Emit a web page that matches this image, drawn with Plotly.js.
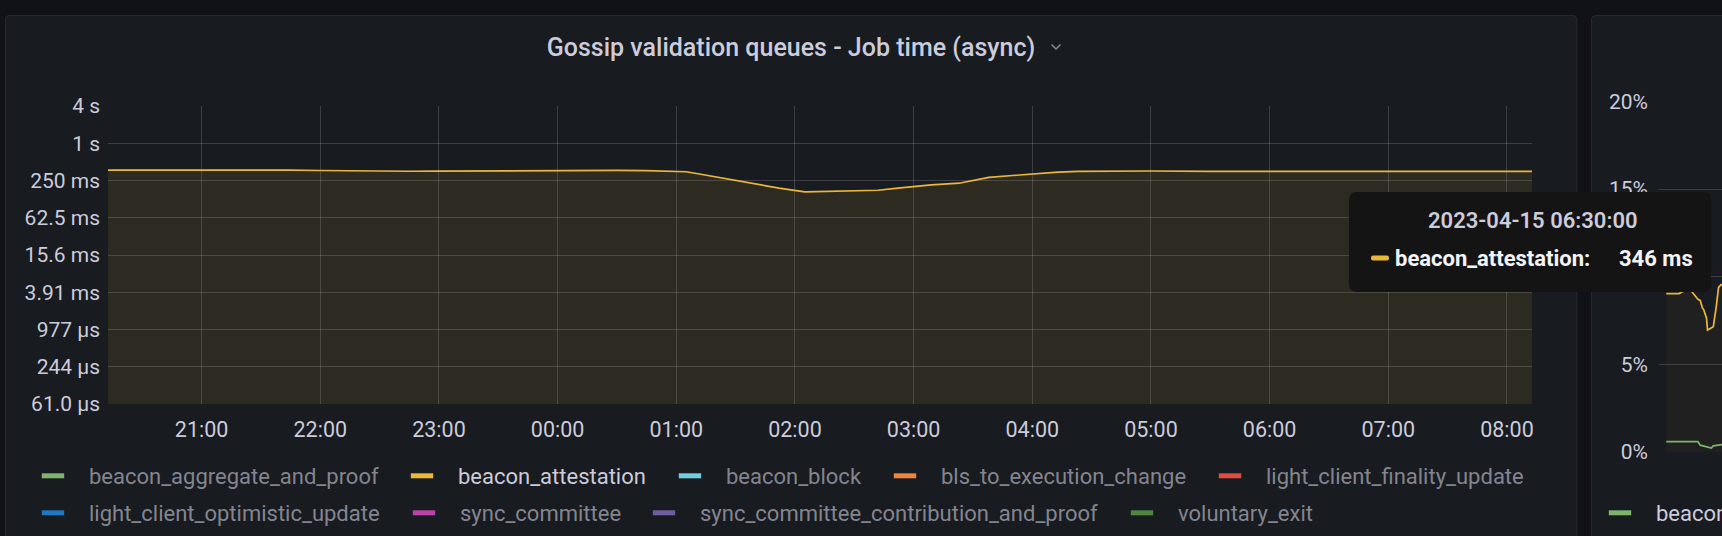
<!DOCTYPE html>
<html><head><meta charset="utf-8">
<script src="https://cdn.plot.ly/plotly-3.0.1.min.js"></script>
<style>html,body{margin:0;padding:0;background:#111217;overflow:hidden}#chart{width:1722px;height:536px}</style>
</head><body><div id="chart"></div>
<script>
// ---------------- data ----------------
const seriesNames = ['beacon_aggregate_and_proof','beacon_attestation','beacon_block','bls_to_execution_change','light_client_finality_update','light_client_optimistic_update','sync_committee','sync_committee_contribution_and_proof','voluntary_exit'];
const seriesColors = ['#7EB26D','#EAB839','#6ED0E0','#EF843C','#E24D42','#1F78C1','#BA43A9','#705DA0','#508642'];
const shownSeries = 'beacon_attestation';

const attestationTimes = ['2023-04-14 20:12:40','2023-04-14 20:30','2023-04-14 20:45','2023-04-14 21:00','2023-04-14 21:15','2023-04-14 21:30','2023-04-14 21:45','2023-04-14 22:00','2023-04-14 22:15','2023-04-14 22:30','2023-04-14 22:45','2023-04-14 23:00','2023-04-14 23:15','2023-04-14 23:30','2023-04-14 23:45','2023-04-15 00:00','2023-04-15 00:15','2023-04-15 00:30','2023-04-15 00:45','2023-04-15 01:00','2023-04-15 01:05','2023-04-15 01:11','2023-04-15 01:32','2023-04-15 01:52','2023-04-15 02:05','2023-04-15 02:19','2023-04-15 02:31','2023-04-15 02:42','2023-04-15 02:52','2023-04-15 03:00','2023-04-15 03:09','2023-04-15 03:23','2023-04-15 03:38','2023-04-15 03:50','2023-04-15 04:00','2023-04-15 04:13','2023-04-15 04:23','2023-04-15 04:45','2023-04-15 05:00','2023-04-15 05:30','2023-04-15 06:00','2023-04-15 06:30','2023-04-15 07:00','2023-04-15 07:30','2023-04-15 08:00','2023-04-15 08:12:40'];
const attestationSeconds = [0.368,0.370,0.369,0.370,0.371,0.369,0.368,0.363,0.357,0.352,0.353,0.355,0.357,0.360,0.364,0.366,0.366,0.364,0.360,0.352,0.346,0.321,0.244,0.188,0.164,0.168,0.174,0.174,0.188,0.202,0.213,0.226,0.280,0.301,0.321,0.341,0.350,0.354,0.356,0.352,0.350,0.346,0.349,0.351,0.350,0.351];

const timeRange = ['2023-04-14 20:12:40','2023-04-15 08:12:40'];
const firstHourTick = '2023-04-14 21:00';
const yTickValues = [Math.pow(4,-7),Math.pow(4,-6),Math.pow(4,-5),Math.pow(4,-4),Math.pow(4,-3),Math.pow(4,-2),Math.pow(4,-1),1,4];
const yTickLabels = ['61.0 µs','244 µs','977 µs','3.91 ms','15.6 ms','62.5 ms','250 ms','1 s','4 s'];
const chartTitle = 'Gossip validation queues - Job time (async)';
const tooltipTime = '2023-04-15 06:30:00';
const tooltipValue = '346 ms';

// neighbouring panel (partly visible on the right)
const p2Range = ['2023-04-14 20:12:40','2023-04-14 20:44:29'];
const p2AttTimes = ['2023-04-14 20:16:20','2023-04-14 20:22:50','2023-04-14 20:24:35','2023-04-14 20:28:55','2023-04-14 20:30:35','2023-04-14 20:32:20','2023-04-14 20:33:30','2023-04-14 20:34:35','2023-04-14 20:35:15','2023-04-14 20:36:40','2023-04-14 20:37:10','2023-04-14 20:39:15','2023-04-14 20:40:05','2023-04-14 20:41:30','2023-04-14 20:42:45','2023-04-14 20:44:00','2023-04-14 20:46:00'];
const p2AttPercent = [9.04,9.04,9.16,9.2,8.96,8.71,8.65,8.22,8.12,7.64,6.96,7.09,7.15,8.22,9.39,9.55,9.55];
const p2AggTimes = ['2023-04-14 20:16:20','2023-04-14 20:32:20','2023-04-14 20:33:30','2023-04-14 20:39:10','2023-04-14 20:40:00','2023-04-14 20:43:30','2023-04-14 20:46:00'];
const p2AggPercent = [0.59,0.59,0.39,0.23,0.35,0.43,0.45];
const p2TickValues = [0,5,10,15,20];
const p2TickLabels = ['0%','5%','10%','15%','20%'];
const p2LegendName = 'beacon_aggregate_and_proof';

// ---------------- layout helpers ----------------
const W = 1722, H = 536;
const X = px => px / W;
const Y = py => 1 - py / H;
const P = (x, y) => X(x).toFixed(5) + ',' + Y(y).toFixed(5);
function rr(x0, y0, x1, y1, r) {
  return 'M' + P(x0 + r, y0) + ' L' + P(x1 - r, y0) + ' Q' + P(x1, y0) + ' ' + P(x1, y0 + r) +
    ' L' + P(x1, y1 - r) + ' Q' + P(x1, y1) + ' ' + P(x1 - r, y1) +
    ' L' + P(x0 + r, y1) + ' Q' + P(x0, y1) + ' ' + P(x0, y1 - r) +
    ' L' + P(x0, y0 + r) + ' Q' + P(x0, y0) + ' ' + P(x0 + r, y0) + ' Z';
}

const TXT = '#ccccdc';
const TXT2 = 'rgba(204,204,220,0.62)';
const GRID = 'rgba(204,204,220,0.2)';
const FONT = 'Roboto';

const traces = [];
seriesNames.forEach((name, i) => {
  const shown = name === shownSeries;
  traces.push({
    type: 'scatter', mode: 'lines', name: name,
    x: shown ? attestationTimes : [], y: shown ? attestationSeconds : [],
    line: {color: seriesColors[i], width: 1.7},
    fill: shown ? 'tozeroy' : 'none',
    fillcolor: 'rgba(234,184,57,0.10)',
    xaxis: 'x', yaxis: 'y', showlegend: false, hoverinfo: 'skip'
  });
});
const legendTextX = [89, 458, 726, 941, 1266, 89, 460, 700, 1178];
const legendRowY = [476, 476, 476, 476, 476, 513, 513, 513, 513];
const ITEMW = 62;
const layoutLegends = {};
seriesNames.forEach((name, i) => {
  const key = i === 0 ? 'legend' : 'legend' + (i + 1);
  traces.push({
    type: 'scatter', mode: 'markers', name: name, x: [null], y: [null],
    marker: {symbol: 'line-ew', size: 16, color: seriesColors[i], line: {color: seriesColors[i], width: 5}},
    legend: key, showlegend: true, hoverinfo: 'skip'
  });
  layoutLegends[key] = {
    x: X(legendTextX[i] - ITEMW - 10), y: Y(legendRowY[i]), xanchor: 'left', yanchor: 'middle',
    xref: 'paper', yref: 'paper', orientation: 'h', itemwidth: ITEMW,
    bgcolor: 'rgba(0,0,0,0)', borderwidth: 0,
    font: {family: FONT, size: 22, color: name === shownSeries ? TXT : TXT2}
  };
});

traces.push({
  type: 'scatter', mode: 'lines', name: 'beacon_attestation', x: p2AttTimes, y: p2AttPercent,
  line: {color: seriesColors[1], width: 1.7}, fill: 'tozeroy', fillcolor: 'rgba(234,184,57,0.035)',
  xaxis: 'x2', yaxis: 'y2', showlegend: false, hoverinfo: 'skip'
});
traces.push({
  type: 'scatter', mode: 'lines', name: p2LegendName, x: p2AggTimes, y: p2AggPercent,
  line: {color: seriesColors[0], width: 1.7},
  xaxis: 'x2', yaxis: 'y2', showlegend: false, hoverinfo: 'skip'
});
traces.push({
  type: 'scatter', mode: 'markers', name: p2LegendName, x: [null], y: [null],
  marker: {symbol: 'line-ew', size: 16, color: seriesColors[0], line: {color: seriesColors[0], width: 5}},
  legend: 'legend10', showlegend: true, xaxis: 'x2', yaxis: 'y2', hoverinfo: 'skip'
});
layoutLegends['legend10'] = {
  x: X(1656 - ITEMW - 10), y: Y(513), xanchor: 'left', yanchor: 'middle', xref: 'paper', yref: 'paper',
  orientation: 'h', itemwidth: ITEMW, bgcolor: 'rgba(0,0,0,0)', borderwidth: 0,
  font: {family: FONT, size: 22, color: TXT}
};

const layout = Object.assign({
  width: W, height: H,
  margin: {l: 0, r: 0, t: 0, b: 0, pad: 0, autoexpand: false},
  paper_bgcolor: '#111217', plot_bgcolor: 'rgba(0,0,0,0)',
  font: {family: FONT, color: TXT, size: 22},
  showlegend: true,
  hovermode: false,
  title: {
    text: chartTitle, automargin: false, font: {family: FONT, size: 25, color: TXT, weight: 500},
    x: X(791), xanchor: 'center', xref: 'container', y: Y(47.5), yanchor: 'middle', yref: 'container'
  },
  xaxis: {
    type: 'date', domain: [X(108), X(1532)], range: timeRange, automargin: false,
    tick0: firstHourTick, dtick: 3600000, tickformat: '%H:%M',
    showgrid: true, gridcolor: GRID, gridwidth: 1, zeroline: false, showline: false,
    ticks: '', ticklabelstandoff: 10, tickfont: {family: FONT, size: 21.5, color: TXT}, anchor: 'y'
  },
  yaxis: {
    type: 'log', domain: [Y(404), Y(106)], automargin: false,
    range: [Math.log10(yTickValues[0]), Math.log10(yTickValues[yTickValues.length - 1])],
    tickmode: 'array', tickvals: yTickValues, ticktext: yTickLabels,
    showgrid: true, gridcolor: GRID, gridwidth: 1, zeroline: false, showline: false,
    ticks: '', ticklabelstandoff: 7, tickfont: {family: FONT, size: 21, color: TXT}, anchor: 'x'
  },
  xaxis2: {
    type: 'date', domain: [X(1659), 1], range: p2Range, anchor: 'y2', automargin: false,
    showgrid: false, showticklabels: false, zeroline: false, showline: false, ticks: ''
  },
  yaxis2: {
    domain: [Y(452), Y(101.5)], range: [0, 20], anchor: 'x2', automargin: false,
    tickmode: 'array', tickvals: p2TickValues, ticktext: p2TickLabels,
    showgrid: true, gridcolor: GRID, zeroline: false, showline: false,
    ticks: '', ticklabelstandoff: 10, tickfont: {family: FONT, size: 21, color: TXT}
  },
  shapes: [
    {type: 'path', xref: 'paper', yref: 'paper', layer: 'below', path: rr(5.5, 15.5, 1577, 580, 4),
      fillcolor: '#181b1f', line: {color: 'rgba(204,204,220,0.10)', width: 1}},
    {type: 'path', xref: 'paper', yref: 'paper', layer: 'below', path: rr(1591.5, 15.5, 1800, 580, 4),
      fillcolor: '#181b1f', line: {color: 'rgba(204,204,220,0.10)', width: 1}},
    {type: 'path', xref: 'paper', yref: 'paper', layer: 'below',
      path: 'M' + P(1051.5, 44.5) + ' L' + P(1056, 49) + ' L' + P(1060.5, 44.5),
      line: {color: TXT2, width: 1.5}},
    {type: 'path', xref: 'paper', yref: 'paper', layer: 'above', path: rr(1349, 192, 1711, 292, 8),
      fillcolor: '#141414', line: {width: 0}},
    {type: 'path', xref: 'paper', yref: 'paper', layer: 'above', path: rr(1371, 255.5, 1389, 260.5, 2),
      fillcolor: seriesColors[1], line: {width: 0}}
  ],
  annotations: [
    {xref: 'paper', yref: 'paper', x: X(1533), y: Y(220.5), xanchor: 'center', yanchor: 'middle', showarrow: false,
      text: tooltipTime, font: {family: FONT, size: 22, color: TXT, weight: 600}},
    {xref: 'paper', yref: 'paper', x: X(1393), y: Y(258), xanchor: 'left', yanchor: 'middle', showarrow: false,
      text: shownSeries + ':', font: {family: FONT, size: 22, color: '#f4f4f8', weight: 700}},
    {xref: 'paper', yref: 'paper', x: X(1695), y: Y(258), xanchor: 'right', yanchor: 'middle', showarrow: false,
      text: tooltipValue, font: {family: FONT, size: 22, color: '#f4f4f8', weight: 700}}
  ]
}, layoutLegends);

Plotly.newPlot('chart', traces, layout, {staticPlot: true, displayModeBar: false});
</script>
</body></html>
